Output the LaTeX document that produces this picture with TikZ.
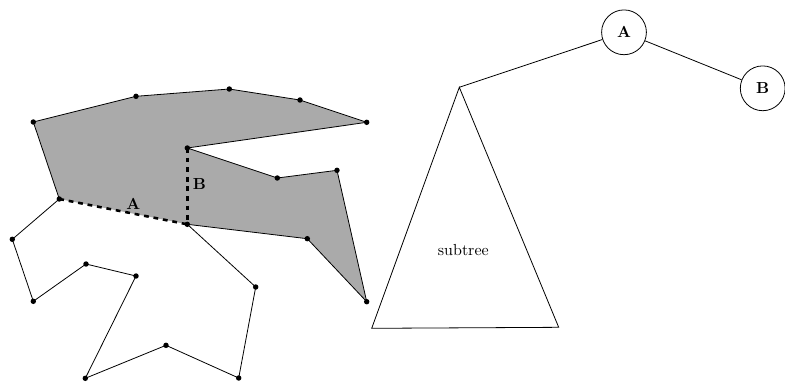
\documentclass[tikz,border=0pt]{standalone}
\definecolor{fillgray}{RGB}{170,170,170}
\begin{document}
\begin{tikzpicture}[x=0.625pt,y=-0.625pt,
  vdot/.style={circle,fill=black,inner sep=0pt,minimum size=3.4pt},
  edge/.style={line width=0.5pt},
  cutline/.style={dashed,line width=1.6pt},
  treenode/.style={circle,draw,line width=0.5pt,minimum size=28pt,inner sep=0pt,font=\bfseries}]
\useasboundingbox (0,0) rectangle (785,381);
% shaded polygon vertices
\coordinate (p1) at (33.3,122);
\coordinate (p2) at (136,96.3);
\coordinate (p3) at (229.3,89);
\coordinate (p4) at (300,100);
\coordinate (p5) at (366.7,122.3);
\coordinate (p6) at (187.3,148);
\coordinate (p7) at (277.3,178);
\coordinate (p8) at (337,170.3);
\coordinate (p9) at (366.7,301.7);
\coordinate (p10) at (307.3,238.7);
\coordinate (p11) at (187.3,224.3);
\coordinate (p12) at (59.3,199);
% outer chain
\coordinate (q1) at (12.3,239.3);
\coordinate (q2) at (33.3,301.3);
\coordinate (q3) at (86,264);
\coordinate (q4) at (136,276);
\coordinate (q5) at (85.3,378.3);
\coordinate (q6) at (166,345.3);
\coordinate (q7) at (238.7,378);
\coordinate (q8) at (255.7,287);
\fill[fillgray] (p1) -- (p2) -- (p3) -- (p4) -- (p5) -- (p6) -- (p7) -- (p8) -- (p9) -- (p10) -- (p11) -- (p12) -- cycle;
\draw[edge] (p12) -- (p1) -- (p2) -- (p3) -- (p4) -- (p5) -- (p6) -- (p7) -- (p8) -- (p9) -- (p10) -- (p11);
\draw[edge] (p12) -- (q1) -- (q2) -- (q3) -- (q4) -- (q5) -- (q6) -- (q7) -- (q8) -- (p11);
\draw[cutline] (p12) -- (p11);
\draw[cutline] (p6) -- (p11);
\foreach \c in {p1,p2,p3,p4,p5,p6,p7,p8,p9,p10,p11,p12,q1,q2,q3,q4,q5,q6,q7,q8}
  \node[vdot] at (\c) {};
\node[font=\bfseries] (la) at (133.3,203.5) {A};
\node[font=\bfseries] (lb) at (199.5,184.5) {B};
% tree
\node[treenode] (A) at (624,32.3) {A};
\node[treenode] (B) at (762.7,88.3) {B};
\coordinate (apex) at (459.3,87.3);
\coordinate (bl) at (371.7,328.3);
\coordinate (br) at (558.7,327.3);
\draw[edge] (A) -- (apex);
\draw[edge] (A) -- (B);
\draw[edge] (apex) -- (bl) -- (br) -- cycle;
\node (st) at (463.3,250) {subtree};
\end{tikzpicture}
\end{document}
